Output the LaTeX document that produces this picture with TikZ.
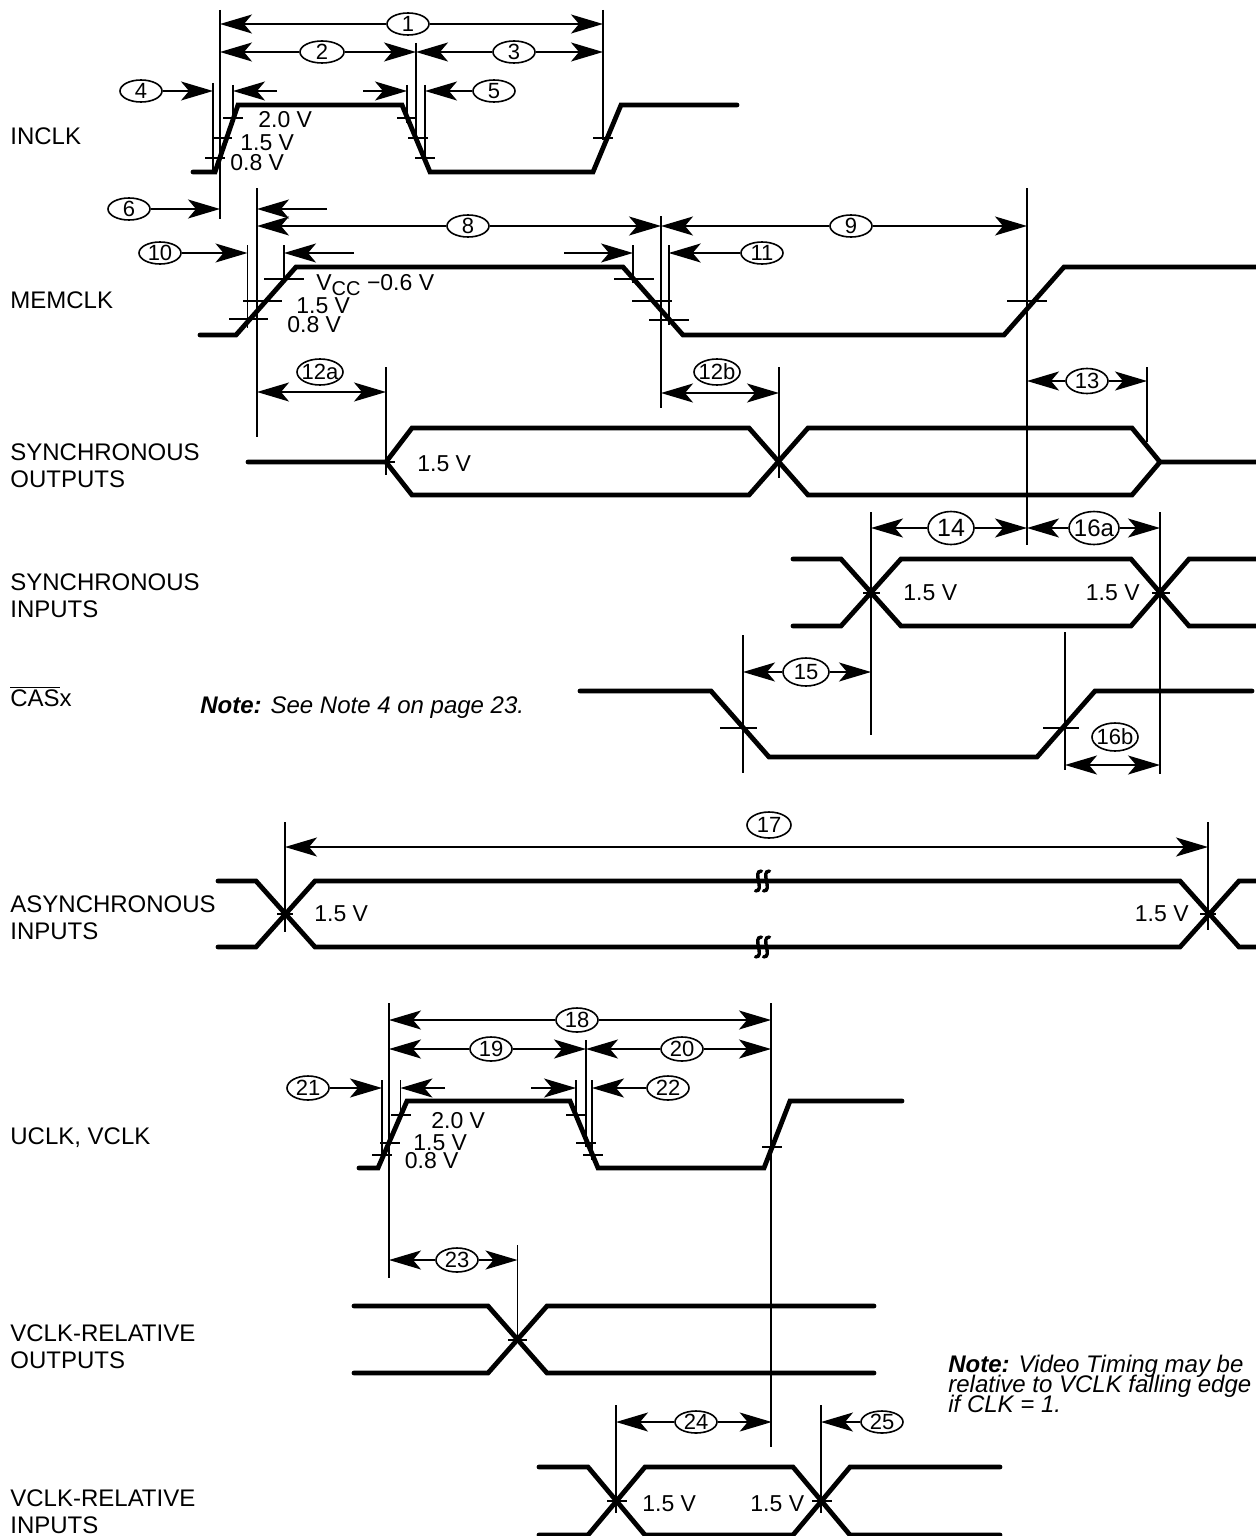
\documentclass[tikz,border=0pt]{standalone}
\usepackage{fontspec}
\setmainfont{Liberation Sans}
\usetikzlibrary{arrows.meta,shapes.geometric}
\newcommand\nm[1]{\makebox[0pt]{\raisebox{-0.358em}[0pt][0pt]{#1}}}
\newcommand\tightlines{\lineskiplimit=-20pt\relax}
\tikzset{
  dtip/.tip={Stealth[length=16pt,width=9.5pt,inset=4pt]},
  sig/.style={line width=2.4pt,line cap=round,line join=miter},
  refl/.style={line width=0.8pt},
  dimarr/.style={line width=0.8pt,-dtip},
  dimboth/.style={line width=0.8pt,dtip-dtip},
  num/.style={ellipse,draw,line width=0.8pt,fill=white,inner sep=0pt,minimum width=21pt,minimum height=11pt,font=\fontsize{11}{11}\selectfont},
  lbl/.style={anchor=base west,inner sep=0pt,align=left,font=\fontsize{12}{13.5}\selectfont},
  val/.style={anchor=base west,inner sep=0pt,font=\fontsize{11.5}{12}\selectfont},
  valr/.style={anchor=base east,inner sep=0pt,font=\fontsize{11.5}{12}\selectfont},
  brk/.style={line width=1.7pt,line cap=round}
}
\begin{document}
\begin{tikzpicture}[x=0.5pt,y=-0.5pt]
\useasboundingbox (0,0) rectangle (1256,1536);

% ---------------- row labels (base = baseline of last line)
\node[lbl] (lin) at (10,144.6) {INCLK};
\node[lbl] (lmem) at (10,308.6) {MEMCLK};
\node[lbl] (lso) at (10,487.6) {SYNCHRONOUS\\OUTPUTS};
\node[lbl] (lsi) at (10,617.6) {SYNCHRONOUS\\INPUTS};
\node[lbl] (lcas) at (10,706.6) {$\overline{\mbox{CAS}}$x};
\node[lbl] (lai) at (10,939.6) {ASYNCHRONOUS\\INPUTS};
\node[lbl] (luv) at (10,1144.6) {UCLK, VCLK};
\node[lbl] (lvo) at (10,1368.6) {VCLK-RELATIVE\\OUTPUTS};
\node[lbl] (lvi) at (10,1533.5) {VCLK-RELATIVE\\INPUTS};
\node[lbl,font=\itshape\fontsize{12}{13.5}\selectfont] (note1) at (200,713.6) {\textbf{Note:} See Note 4 on page 23.};
\node[lbl,font=\itshape\fontsize{12}{10}\selectfont\tightlines] (note2) at (948,1412.6) {\textbf{Note:} Video Timing may be\\relative to VCLK falling edge\\if CLK = 1.};

% ---------------- signals
\draw[sig] (193,172) -- (215,172) -- (238,105) -- (402,105) -- (430,172) -- (593,172) -- (621,105) -- (737,105);
\draw[sig] (200,335) -- (236,335) -- (296,267) -- (623,267) -- (683,335) -- (1004,335) -- (1064,267) -- (1256,267);
\draw[sig] (248,462) -- (386,462) -- (412,428) -- (749,428) -- (808,495) -- (1132,495) -- (1160,462) -- (1256,462);
\draw[sig] (386,462) -- (412,495) -- (749,495) -- (808,428) -- (1132,428) -- (1160,462);
\draw[sig] (793,559) -- (841,559) -- (901,626) -- (1131,626) -- (1189,559) -- (1256,559);
\draw[sig] (793,626) -- (841,626) -- (901,559) -- (1131,559) -- (1189,626) -- (1256,626);
\draw[sig] (580,691) -- (711,691) -- (769,757) -- (1037,757) -- (1095,691) -- (1252,691);
\draw[sig] (218,881) -- (256,881) -- (315,947) -- (1180,947) -- (1239,881) -- (1256,881);
\draw[sig] (218,947) -- (256,947) -- (315,881) -- (1180,881) -- (1239,947) -- (1256,947);
\draw[sig] (359,1168) -- (378,1168) -- (407,1101) -- (570,1101) -- (598,1168) -- (764,1168) -- (790,1101) -- (902,1101);
\draw[sig] (354,1306) -- (488,1306) -- (547,1373) -- (874,1373);
\draw[sig] (354,1373) -- (488,1373) -- (547,1306) -- (874,1306);
\draw[sig] (539,1467) -- (588,1467) -- (645,1535) -- (793,1535) -- (850,1467) -- (1000,1467);
\draw[sig] (539,1535) -- (588,1535) -- (645,1467) -- (793,1467) -- (850,1535) -- (1000,1535);

% break marks on asynchronous inputs
\foreach \yy in {881,947}{
  \foreach \xx in {758.5,766.5}{
    \draw[brk] (\xx+3,\yy-10) .. controls (\xx-7,\yy-10) and (\xx+7,\yy+10) .. (\xx-3,\yy+10);
  }
}

% ---------------- reference (vertical) lines
\draw[refl] (220,10) -- (220,219);
\draw[refl] (603,10) -- (603,140);
\draw[refl] (416,43) -- (416,140);
\draw[refl] (213,83) -- (213,174);
\draw[refl] (233,85) -- (233,121);
\draw[refl] (407,85) -- (407,123);
\draw[refl] (425,85) -- (425,160);
\draw[refl] (257,188) -- (257,437);
\draw[refl] (247.5,245) -- (247.5,328);
\draw[refl] (284,245) -- (284,283);
\draw[refl] (633,245) -- (633,283);
\draw[refl] (661,216) -- (661,408);
\draw[refl] (668.7,245) -- (668.7,325);
\draw[refl] (1027,188) -- (1027,545);
\draw[refl] (386,367) -- (386,475);
\draw[refl] (779,367) -- (779,478);
\draw[refl] (1147,367) -- (1147,442);
\draw[refl] (871,512) -- (871,735);
\draw[refl] (1160,512) -- (1160,774);
\draw[refl] (743,635) -- (743,773);
\draw[refl] (1065,632) -- (1065,770);
\draw[refl] (285,822) -- (285,932);
\draw[refl] (1208,822) -- (1208,930);
\draw[refl] (389,1003) -- (389,1278);
\draw[refl] (771,1003) -- (771,1447);
\draw[refl] (586,1040) -- (586,1147);
\draw[refl] (382,1080) -- (382,1157);
\draw[refl] (400.4,1080) -- (400.4,1120);
\draw[refl] (576,1080) -- (576,1115);
\draw[refl] (592,1080) -- (592,1160);
\draw[refl] (517.5,1245) -- (517.5,1340);
\draw[refl] (616,1405) -- (616,1513);
\draw[refl] (821,1405) -- (821,1513);

% ---------------- threshold ticks
\draw[refl] (205,158) -- (225,158) (212,138) -- (232,138) (223,118) -- (243,118);
\draw[refl] (397,118) -- (417,118) (408,138) -- (428,138) (415,158) -- (435,158);
\draw[refl] (593,138) -- (613,138);
\draw[refl] (264,279) -- (304,279) (243,301) -- (282,301) (229,319) -- (268,319);
\draw[refl] (614,279) -- (654,279) (632,301) -- (672,301) (649,320) -- (689,320);
\draw[refl] (1007,301) -- (1047,301);
\draw[refl] (381,462) -- (395,462);
\draw[refl] (863,593) -- (880,593) (1152,593) -- (1170,593);
\draw[refl] (720,728) -- (757,728) (1043,728) -- (1079,728);
\draw[refl] (277,914) -- (293,914) (1200,914) -- (1216,914);
\draw[refl] (391,1115) -- (411,1115) (380,1143) -- (400,1143) (372,1155) -- (392,1155);
\draw[refl] (566,1115) -- (586,1115) (576,1143) -- (596,1143) (583,1155) -- (603,1155);
\draw[refl] (762,1147) -- (782,1147);
\draw[refl] (508,1340) -- (527,1340);
\draw[refl] (607,1501) -- (627,1501) (812,1501) -- (832,1501);

% ---------------- level labels
\node[val] (v1) at (258,127) {2.0 V};
\node[val] (v2) at (240,150) {1.5 V};
\node[val] (v3) at (230,170) {0.8 V};
\node[val] (v4) at (316,290) {V\raisebox{-2.5pt}{\fontsize{10}{10}\selectfont CC} −0.6 V};
\node[val] (v5) at (296,313) {1.5 V};
\node[val] (v6) at (287,332) {0.8 V};
\node[val] (v7) at (417,471) {1.5 V};
\node[val] (v8) at (903,600) {1.5 V};
\node[valr] (v9) at (1140,600) {1.5 V};
\node[val] (v10) at (314,921) {1.5 V};
\node[valr] (v11) at (1189,921) {1.5 V};
\node[val] (v12) at (431,1128) {2.0 V};
\node[val] (v13) at (413,1150) {1.5 V};
\node[val] (v14) at (404.5,1168) {0.8 V};
\node[val] (v15) at (642,1511) {1.5 V};
\node[val] (v16) at (750,1511) {1.5 V};

% ---------------- dimension markers
\node[num] (n1) at (408,24) {\nm{1}};
\draw[dimarr] (n1) -- (220,24); \draw[dimarr] (n1) -- (603,24);
\node[num,minimum width=22pt] (n2) at (322,52) {\nm{2}};
\draw[dimarr] (n2) -- (220,52); \draw[dimarr] (n2) -- (416,52);
\node[num] (n3) at (514,52) {\nm{3}};
\draw[dimarr] (n3) -- (416,52); \draw[dimarr] (n3) -- (603,52);
\node[num] (n4) at (141,91) {\nm{4}};
\draw[dimarr] (n4) -- (213,91);
\coordinate (a4b) at (277,91); \draw[dimarr] (a4b) -- (233,91);
\coordinate (a5b) at (363,91); \draw[dimarr] (a5b) -- (407,91);
\node[num] (n5) at (494,91) {\nm{5}};
\draw[dimarr] (n5) -- (425,91);

\node[num] (n6) at (129,209) {\nm{6}};
\draw[dimarr] (n6) -- (220,209);
\coordinate (a6b) at (327,209); \draw[dimarr] (a6b) -- (257,209);
\node[num] (n8) at (468,226) {\nm{8}};
\draw[dimarr] (n8) -- (257,226); \draw[dimarr] (n8) -- (661,226);
\node[num] (n9) at (851,226) {\nm{9}};
\draw[dimarr] (n9) -- (661,226); \draw[dimarr] (n9) -- (1027,226);
\node[num] (n10) at (160,253) {\nm{10}};
\draw[dimarr] (n10) -- (247.5,253);
\coordinate (a10b) at (354,253); \draw[dimarr] (a10b) -- (284,253);
\coordinate (a11b) at (564,253); \draw[dimarr] (a11b) -- (633,253);
\node[num] (n11) at (762,253) {\nm{11}};
\draw[dimarr] (n11) -- (668.7,253);

\node[num,minimum width=23pt,minimum height=13pt] (n12a) at (320,372) {\nm{12a}};
\draw[dimboth] (257,392) -- (386,392);
\node[num,minimum width=23pt,minimum height=13pt] (n12b) at (717,372) {\nm{12b}};
\draw[dimboth] (661,393) -- (779,393);
\node[num,minimum height=12.5pt] (n13) at (1087,381) {\nm{13}};
\draw[dimarr] (n13) -- (1027,381); \draw[dimarr] (n13) -- (1147,381);
\node[num,minimum width=23pt,minimum height=16.5pt,font=\fontsize{12.5}{12.5}\selectfont] (n14) at (951,528) {\nm{14}};
\draw[dimarr] (n14) -- (871,528); \draw[dimarr] (n14) -- (1027,528);
\node[num,minimum width=25pt,minimum height=16.5pt,font=\fontsize{12}{12}\selectfont] (n16a) at (1094,528) {\nm{16a}};
\draw[dimarr] (n16a) -- (1027,528); \draw[dimarr] (n16a) -- (1160,528);
\node[num,minimum width=23pt,minimum height=14pt] (n15) at (806,672) {\nm{15}};
\draw[dimarr] (n15) -- (743,672); \draw[dimarr] (n15) -- (871,672);
\node[num,minimum width=23pt,minimum height=14pt] (n16b) at (1115,737) {\nm{16b}};
\draw[dimboth] (1065,765) -- (1160,765);

\node[num,minimum width=22pt,minimum height=13pt] (n17) at (769,825) {\nm{17}};
\draw[dimboth] (285,847) -- (1208,847);

\node[num,minimum height=12pt] (n18) at (577,1020) {\nm{18}};
\draw[dimarr] (n18) -- (389,1020); \draw[dimarr] (n18) -- (771,1020);
\node[num,minimum height=12pt] (n19) at (491,1049) {\nm{19}};
\draw[dimarr] (n19) -- (389,1049); \draw[dimarr] (n19) -- (586,1049);
\node[num,minimum height=12pt] (n20) at (682,1049) {\nm{20}};
\draw[dimarr] (n20) -- (586,1049); \draw[dimarr] (n20) -- (771,1049);
\node[num,minimum height=12pt] (n21) at (308,1088) {\nm{21}};
\draw[dimarr] (n21) -- (382,1088);
\coordinate (a21b) at (445,1088); \draw[dimarr] (a21b) -- (400.4,1088);
\coordinate (a22b) at (531,1088); \draw[dimarr] (a22b) -- (576,1088);
\node[num,minimum height=12pt] (n22) at (668,1088) {\nm{22}};
\draw[dimarr] (n22) -- (592,1088);
\node[num,minimum height=12pt] (n23) at (457,1260) {\nm{23}};
\draw[dimarr] (n23) -- (389,1260); \draw[dimarr] (n23) -- (517.5,1260);
\node[num] (n24) at (696,1422) {\nm{24}};
\draw[dimarr] (n24) -- (616,1422); \draw[dimarr] (n24) -- (771.7,1422);
\node[num] (n25) at (882,1422) {\nm{25}};
\draw[dimarr] (n25) -- (821,1422);
\end{tikzpicture}
\end{document}
